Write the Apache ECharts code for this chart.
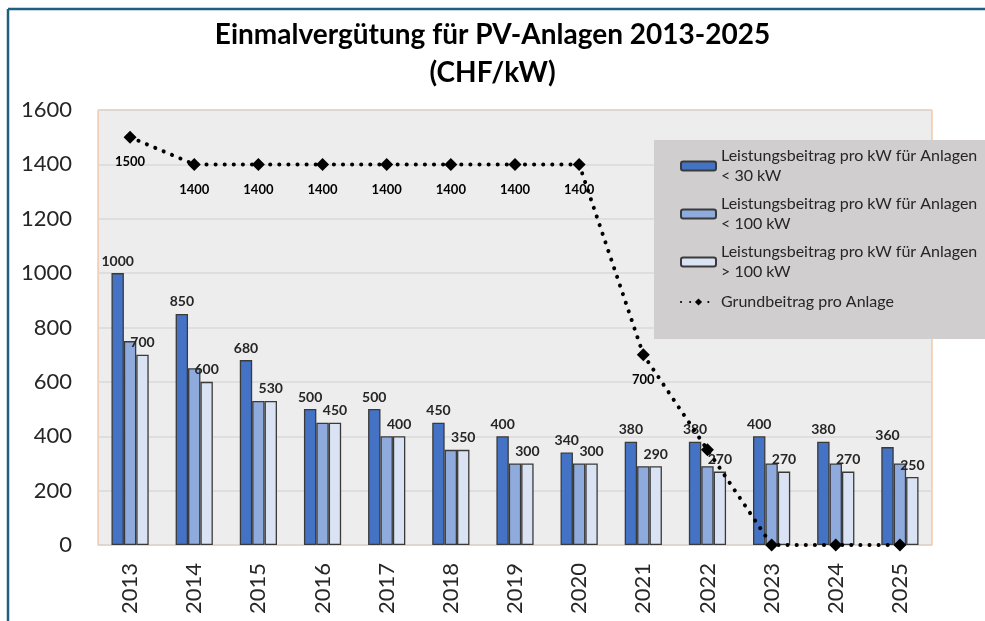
<!DOCTYPE html>
<html>
<head>
<meta charset="utf-8">
<script src="https://cdn.jsdelivr.net/npm/echarts@6/dist/echarts.min.js"></script>
<style>
  html, body { margin: 0; padding: 0; background: #fff; }
  #chart { width: 985px; height: 621px; }
</style>
</head>
<body>
<div id="chart"></div>
<script>
// Years on the category axis
const years = ['2013', '2014', '2015', '2016', '2017', '2018', '2019', '2020', '2021', '2022', '2023', '2024', '2025'];

// Leistungsbeitrag (CHF/kW) per size class
const under30 = [1000, 850, 680, 500, 500, 450, 400, 340, 380, 380, 400, 380, 360];
const under100 = [750, 650, 530, 450, 400, 350, 300, 300, 290, 290, 300, 300, 300];
const over100 = [700, 600, 530, 450, 400, 350, 300, 300, 290, 270, 270, 270, 250];

// Grundbeitrag pro Anlage (CHF)
const grund = [1500, 1400, 1400, 1400, 1400, 1400, 1400, 1400, 700, 350, 0, 0, 0];
// values whose label is printed on the dotted line
const grundLabelled = [true, true, true, true, true, true, true, true, true, false, false, false, false];

// Axis ticks
const yMin = 0, yMax = 1600, yStep = 200;

const seriesNames = [
  'Leistungsbeitrag pro kW für Anlagen\n< 30 kW',
  'Leistungsbeitrag pro kW für Anlagen\n< 100 kW',
  'Leistungsbeitrag pro kW für Anlagen\n> 100 kW',
  'Grundbeitrag pro Anlage'
];

const FONT = 'Lato, "Open Sans", sans-serif';
const chart = echarts.init(document.getElementById('chart'), null, { renderer: 'canvas' });

const barLabel = {
  show: true,
  position: 'top',
  distance: 5,
  fontFamily: FONT,
  fontWeight: 'bold',
  fontSize: 14,
  color: '#262626'
};

function barSeries(name, values, color, withLabel) {
  return {
    name: name,
    type: 'bar',
    data: values,
    barGap: '0%',
    barCategoryGap: '42%',
    itemStyle: { color: color, borderColor: '#3a3a3a', borderWidth: 1.3 },
    label: withLabel ? barLabel : { show: false },
    emphasis: { disabled: true },
    z: 2
  };
}

chart.setOption({
  animation: false,
  backgroundColor: '#ffffff',
  title: {
    text: 'Einmalvergütung für PV-Anlagen 2013-2025\n(CHF/kW)',
    left: 'center',
    top: 11,
    textStyle: {
      fontFamily: FONT,
      fontWeight: 'bold',
      fontSize: 28,
      lineHeight: 38,
      color: '#000'
    }
  },
  graphic: [
    // frame lines along the top and left edge
    { type: 'line', shape: { x1: 8, y1: 9, x2: 985, y2: 9 }, style: { stroke: '#1F5F80', lineWidth: 2.5 }, z: 10 },
    { type: 'line', shape: { x1: 8, y1: 9, x2: 8, y2: 621 }, style: { stroke: '#1F5F80', lineWidth: 2.5 }, z: 10 },
    // legend panel
    { type: 'rect', shape: { x: 654, y: 140, width: 331, height: 199 }, style: { fill: '#D0CECE' }, z: 5 }
  ],
  legend: {
    orient: 'vertical',
    left: 675,
    top: 131,
    itemWidth: 35,
    itemHeight: 9,
    itemGap: -12,
    z: 20,
    textStyle: {
      fontFamily: FONT,
      fontSize: 16,
      lineHeight: 20,
      color: '#262626',
      padding: [20, 0, 0, 0]
    },
    data: [
      { name: seriesNames[0] },
      { name: seriesNames[1] },
      { name: seriesNames[2] },
      { name: seriesNames[3], textStyle: { padding: [12, 0, 12, 0] } }
    ]
  },
  grid: {
    left: 98,
    top: 110,
    width: 834,
    height: 435,
    show: true,
    backgroundColor: '#EDEDED',
    borderColor: '#F4B183',
    borderWidth: 1,
    containLabel: false
  },
  xAxis: {
    type: 'category',
    data: years,
    axisLine: { show: true, lineStyle: { color: '#D9D9D9', width: 1 } },
    axisTick: { show: false },
    axisLabel: {
      rotate: 90,
      margin: 18,
      fontFamily: FONT,
      fontSize: 22,
      color: '#262626'
    }
  },
  yAxis: {
    type: 'value',
    min: yMin,
    max: yMax,
    interval: yStep,
    axisLine: { show: false },
    axisTick: { show: false },
    splitLine: { lineStyle: { color: '#D9D9D9', width: 1.5 } },
    axisLabel: {
      margin: 26,
      fontFamily: FONT,
      fontSize: 22,
      color: '#262626',
      formatter: v => String(v)
    }
  },
  series: [
    barSeries(seriesNames[0], under30, '#4472C4', true),
    barSeries(seriesNames[1], under100, '#8FAADC', false),
    barSeries(seriesNames[2], over100, '#DAE3F3', true),
    {
      name: seriesNames[3],
      type: 'line',
      data: grund.map((v, i) => ({ value: v, label: { show: grundLabelled[i] } })),
      symbol: 'diamond',
      symbolSize: 13,
      itemStyle: { color: '#000' },
      lineStyle: { color: '#000', width: 4, type: [0.1, 9], cap: 'round' },
      label: {
        show: true,
        position: 'bottom',
        distance: 12,
        fontFamily: FONT,
        fontWeight: 'bold',
        fontSize: 13,
        color: '#000'
      },
      emphasis: { disabled: true },
      z: 4
    }
  ]
});
</script>
</body>
</html>
